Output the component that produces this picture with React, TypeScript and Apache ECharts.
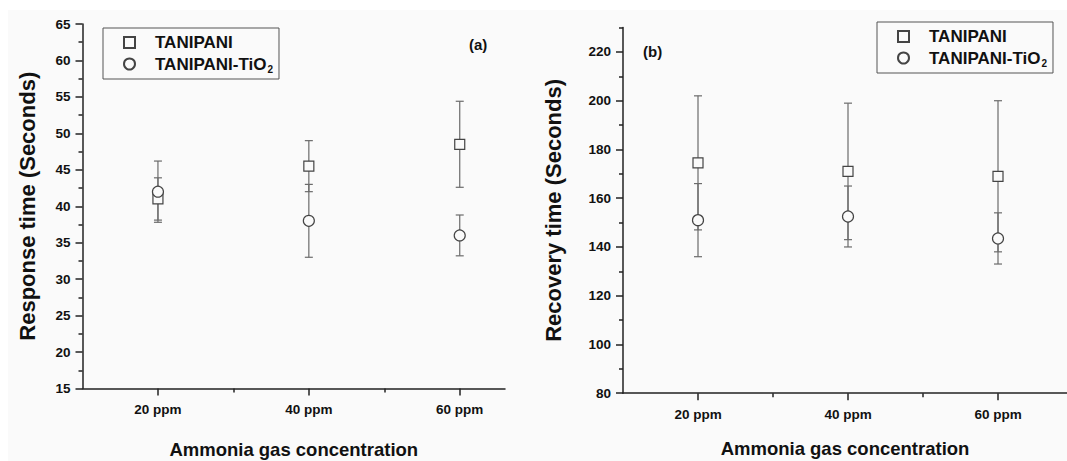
import React, { useEffect, useRef } from 'react';
import * as echarts from 'echarts';

const categories = ['20 ppm', '40 ppm', '60 ppm'];
const categoryPos = [1, 2, 3];
const seriesNames = ['TANIPANI', 'TANIPANI-TiO2'];

const respTani = [41, 45.5, 48.5];
const respTaniErr = [2.9, 3.5, 5.9];
const respTio2 = [42, 38, 36];
const respTio2Err = [4.2, 5, 2.8];

const recTani = [174.5, 171, 169];
const recTaniErr = [27.5, 28, 31];
const recTio2 = [151, 152.5, 143.5];
const recTio2Err = [15, 12.5, 10.5];

const respMajorTicks = [15, 20, 25, 30, 35, 40, 45, 50, 55, 60, 65];
const respMinorTicks = [17.5, 22.5, 27.5, 32.5, 37.5, 42.5, 47.5, 52.5, 57.5, 62.5];
const recMajorTicks = [80, 100, 120, 140, 160, 180, 200, 220];
const recMinorTicks = [90, 110, 130, 150, 170, 190, 210, 230];
const xMajorTicks = [1, 2, 3];
const xMinorTicks = [1.5, 2.5];

const FONT = "'Liberation Sans', Arial, Helvetica, sans-serif";
const BG = '#fafafa';
const AXIS = '#222';
const TXT = '#111';

const pts = (vals: number[]) => categoryPos.map((p, i) => [p, vals[i]]);
const errs = (vals: number[], e: number[]) =>
  categoryPos.map((p, i) => [p, vals[i] - e[i], vals[i] + e[i]]);

const renderErr = (params: any, api: any) => {
  const x = api.value(0);
  const lo = api.coord([x, api.value(1)]);
  const hi = api.coord([x, api.value(2)]);
  const w = 4;
  const style = { stroke: '#6b6b6b', lineWidth: 1.2 };
  return {
    type: 'group',
    children: [
      { type: 'line', shape: { x1: lo[0], y1: lo[1], x2: hi[0], y2: hi[1] }, style },
      { type: 'line', shape: { x1: lo[0] - w, y1: lo[1], x2: lo[0] + w, y2: lo[1] }, style },
      { type: 'line', shape: { x1: hi[0] - w, y1: hi[1], x2: hi[0] + w, y2: hi[1] }, style },
    ],
  };
};

const grids = [
  { left: 82.5, top: 24, width: 422.5, height: 364.5 },
  { left: 623, top: 27.6, width: 444, height: 365.6 },
];

const makeLegend = (left: number, top: number) => ({
  data: seriesNames,
  orient: 'vertical',
  left,
  top,
  padding: [6, 6, 5, 20],
  itemGap: 3,
  itemWidth: 11,
  itemHeight: 11,
  symbolKeepAspect: true,
  borderColor: '#555',
  borderWidth: 1,
  backgroundColor: BG,
  selectedMode: false,
  formatter: (name: string) =>
    name === 'TANIPANI-TiO2' ? '{n|TANIPANI-TiO}{s|2}' : '{n|' + name + '}',
  textStyle: {
    padding: [0, 0, 0, 15],
    rich: {
      n: { fontFamily: FONT, fontWeight: 'bold', fontSize: 17, lineHeight: 20, color: TXT },
      s: { fontFamily: FONT, fontWeight: 'bold', fontSize: 10, lineHeight: 10, color: TXT, padding: [10, 0, 0, 1] },
    },
  },
});

export default function App() {
  const ref = useRef<HTMLDivElement>(null);
  useEffect(() => {
    if (!ref.current) return;
    const chart = echarts.init(ref.current, undefined, { renderer: 'svg' });
    const labelStyle = { fontFamily: FONT, fontWeight: 'bold', fontSize: 13.5, color: TXT };
    const nameStyle = { fontFamily: FONT, fontWeight: 'bold', color: TXT };

    const mainX = (gridIndex: number, max: number) => ({
      type: 'value',
      gridIndex,
      min: 0.5,
      max,
      interval: 0.5,
      name: 'Ammonia gas concentration',
      nameLocation: 'middle',
      nameGap: gridIndex === 0 ? 51 : 46,
      nameTextStyle: { ...nameStyle, fontSize: 18.5 },
      axisLine: { show: true, onZero: false, lineStyle: { color: AXIS, width: 1.5 } },
      axisTick: { show: true, customValues: xMajorTicks, length: 7, lineStyle: { color: AXIS, width: 1.5 } },
      axisLabel: {
        customValues: xMajorTicks,
        formatter: (v: number) => categories[Math.round(v) - 1] ?? '',
        margin: 14,
        ...labelStyle,
      },
      splitLine: { show: false },
    });
    const minorX = (gridIndex: number, max: number) => ({
      type: 'value',
      gridIndex,
      min: 0.5,
      max,
      interval: 0.5,
      axisLine: { show: false, onZero: false },
      axisTick: { show: true, customValues: xMinorTicks, length: 4, lineStyle: { color: AXIS, width: 1.5 } },
      axisLabel: { show: false },
      splitLine: { show: false },
    });
    const mainY = (gridIndex: number, min: number, max: number, interval: number, ticks: number[], name: string, gap: number) => ({
      type: 'value',
      gridIndex,
      min,
      max,
      interval,
      name,
      nameLocation: 'middle',
      nameGap: gap,
      nameTextStyle: { ...nameStyle, fontSize: 22 },
      axisLine: { show: true, onZero: false, lineStyle: { color: AXIS, width: 1.5 } },
      axisTick: { show: true, customValues: ticks, length: 7, lineStyle: { color: AXIS, width: 1.5 } },
      axisLabel: { customValues: ticks, margin: 12, ...labelStyle },
      splitLine: { show: false },
    });
    const minorY = (gridIndex: number, min: number, max: number, interval: number, ticks: number[]) => ({
      type: 'value',
      gridIndex,
      min,
      max,
      interval,
      axisLine: { show: false, onZero: false },
      axisTick: { show: true, customValues: ticks, length: 4, lineStyle: { color: AXIS, width: 1.5 } },
      axisLabel: { show: false },
      splitLine: { show: false },
    });

    const scatter = (name: string, symbol: string, size: number, data: any, xi: number) => ({
      type: 'scatter',
      name,
      symbol,
      symbolSize: size,
      xAxisIndex: xi,
      yAxisIndex: xi,
      data,
      z: symbol === 'circle' ? 4 : 3,
      itemStyle: { color: BG, borderColor: '#444', borderWidth: 1.2, opacity: 1 },
      emphasis: { disabled: true },
    });
    const errSeries = (data: any, xi: number) => ({
      type: 'custom',
      name: 'err',
      xAxisIndex: xi,
      yAxisIndex: xi,
      renderItem: renderErr,
      encode: { x: 0, y: [1, 2] },
      data,
      z: 2,
      silent: true,
    });

    const option: any = {
      animation: false,
      backgroundColor: '#ffffff',
      textStyle: { fontFamily: FONT },
      grid: [
        { ...grids[0], outerBoundsMode: 'none' },
        { ...grids[1], outerBoundsMode: 'none' },
        { ...grids[0], outerBoundsMode: 'none' },
        { ...grids[1], outerBoundsMode: 'none' },
      ],
      xAxis: [mainX(0, 3.3), mainX(1, 3.46), minorX(2, 3.3), minorX(3, 3.46)],
      yAxis: [
        mainY(0, 15, 65, 5, respMajorTicks, 'Response time (Seconds)', 44),
        mainY(1, 80, 230, 10, recMajorTicks, 'Recovery time (Seconds)', 59),
        minorY(2, 15, 65, 5, respMinorTicks),
        minorY(3, 80, 230, 10, recMinorTicks),
      ],
      legend: [makeLegend(103, 28), makeLegend(877, 22)],
      graphic: [
        { type: 'rect', left: 8, top: 10, shape: { width: 1059, height: 451 }, style: { fill: BG }, z: -10, silent: true },
        { type: 'text', left: 469, top: 37, style: { text: '(a)', font: `bold 15px ${FONT}`, fill: TXT }, z: 10 },
        { type: 'text', left: 643, top: 44, style: { text: '(b)', font: `bold 15px ${FONT}`, fill: TXT }, z: 10 },
      ],
      series: [
        errSeries(errs(respTani, respTaniErr), 0),
        errSeries(errs(respTio2, respTio2Err), 0),
        scatter('TANIPANI', 'rect', 10, pts(respTani), 0),
        scatter('TANIPANI-TiO2', 'circle', 11, pts(respTio2), 0),
        errSeries(errs(recTani, recTaniErr), 1),
        errSeries(errs(recTio2, recTio2Err), 1),
        scatter('TANIPANI', 'rect', 10, pts(recTani), 1),
        scatter('TANIPANI-TiO2', 'circle', 11, pts(recTio2), 1),
      ],
    };
    chart.setOption(option);
    return () => chart.dispose();
  }, []);
  return (
    <div
      ref={ref}
      style={{ position: 'fixed', left: 0, top: 0, width: 1067, height: 461 }}
    />
  );
}
